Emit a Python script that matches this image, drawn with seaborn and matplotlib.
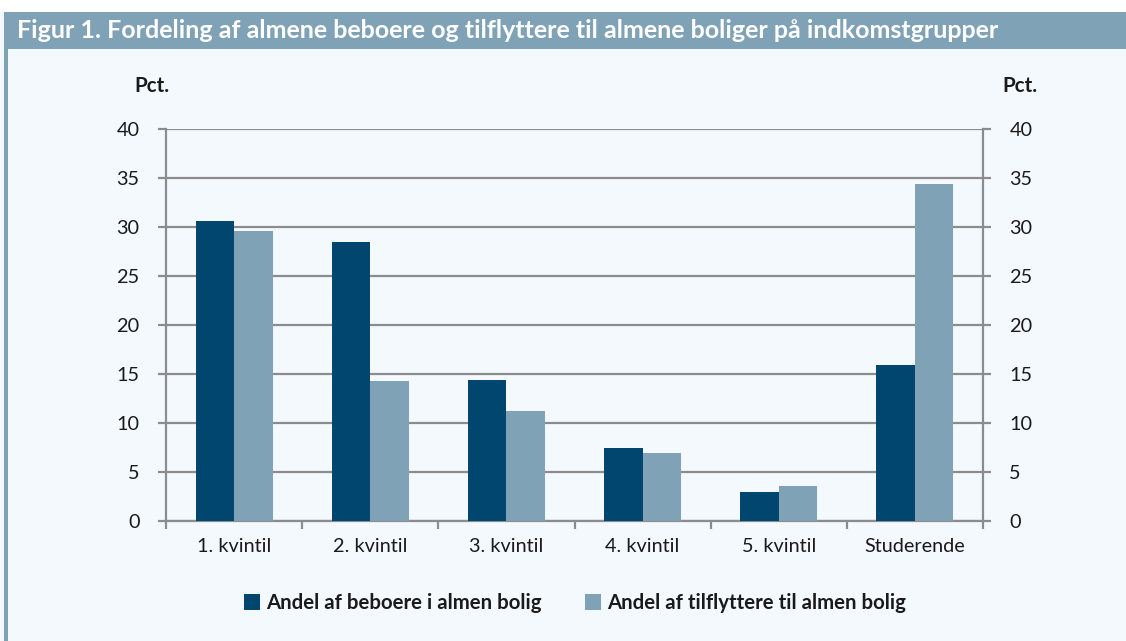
import matplotlib
matplotlib.use("Agg")
import matplotlib.pyplot as plt
import matplotlib.patches as mpatches
import pandas as pd
import seaborn as sns

categories = ["1. kvintil", "2. kvintil", "3. kvintil", "4. kvintil", "5. kvintil", "Studerende"]
beboere = [30.6, 28.5, 14.4, 7.5, 3.0, 15.9]
tilflyttere = [29.6, 14.3, 11.2, 6.9, 3.6, 34.4]
series_names = ["Andel af beboere i almen bolig", "Andel af tilflyttere til almen bolig"]
yticks = [0, 5, 10, 15, 20, 25, 30, 35, 40]

title = "Figur 1. Fordeling af almene beboere og tilflyttere til almene boliger på indkomstgrupper"

bg = "#F4F9FE"
dark = "#00466E"
light = "#7FA2B7"
grid_col = "#8C8C8C"
txt = "#1A1A1A"

df = pd.DataFrame({
    "kategori": categories * 2,
    "pct": beboere + tilflyttere,
    "serie": [series_names[0]] * len(categories) + [series_names[1]] * len(categories),
})

sns.set_theme(style="white")
plt.rcParams["font.family"] = ["Lato", "DejaVu Sans"]

fig = plt.figure(figsize=(11.26, 6.41), dpi=100)
fig.patch.set_facecolor(bg)

# white strip on top, title bar and left border
fig.patches.append(mpatches.Rectangle((0, 1 - 12 / 641), 1, 12 / 641, transform=fig.transFigure,
                                      facecolor="white", edgecolor="none", zorder=0))
fig.patches.append(mpatches.Rectangle((4 / 1126, 1 - 49 / 641), 1, 37 / 641, transform=fig.transFigure,
                                      facecolor=light, edgecolor="none", zorder=0))
fig.patches.append(mpatches.Rectangle((4 / 1126, 0), 4 / 1126, 1 - 12 / 641, transform=fig.transFigure,
                                      facecolor=light, edgecolor="none", zorder=0))
fig.text(17 / 1126, 1 - 31 / 641, title, color="white", fontsize=18, fontweight="bold",
         va="center", ha="left")

ax = fig.add_axes([166 / 1126, 1 - 521 / 641, (983 - 166) / 1126, (521 - 129) / 641])
ax.set_facecolor(bg)

sns.barplot(data=df, x="kategori", y="pct", hue="serie", palette=[dark, light],
            width=0.565, ax=ax, legend=False, zorder=3, edgecolor="none", saturation=1)

ax.set_xlim(-0.5, len(categories) - 0.5)
ax.set_ylim(0, 40)
ax.set_yticks(yticks)
ax.set_xlabel("")
ax.set_ylabel("")
ax.yaxis.grid(True, color=grid_col, linewidth=1.6, zorder=0)
ax.set_axisbelow(True)

for side in ["left", "right", "bottom"]:
    ax.spines[side].set_visible(True)
    ax.spines[side].set_color(grid_col)
    ax.spines[side].set_linewidth(1.6)
ax.spines["top"].set_visible(False)

ax.tick_params(axis="y", which="major", left=True, right=True, labelleft=True, labelright=True,
               length=6, width=1.6, color=grid_col, labelsize=14.3, labelcolor=txt, pad=13)
ax.set_xticks(range(len(categories)))
ax.set_xticklabels(categories)
ax.set_xticks([i - 0.5 for i in range(len(categories) + 1)], minor=True)
ax.tick_params(axis="x", which="major", length=0, labelsize=14.3, labelcolor=txt, pad=12)
ax.tick_params(axis="x", which="minor", bottom=True, length=6, width=1.6, color=grid_col)

fig.text(152 / 1126, 1 - 86 / 641, "Pct.", fontsize=14.8, fontweight="bold", color=txt,
         ha="center", va="center")
fig.text(1020 / 1126, 1 - 86 / 641, "Pct.", fontsize=14.8, fontweight="bold", color=txt,
         ha="center", va="center")

handles = [mpatches.Patch(facecolor=dark, edgecolor="none"),
           mpatches.Patch(facecolor=light, edgecolor="none")]
leg = fig.legend(handles, series_names, loc="center", bbox_to_anchor=(575 / 1126, 1 - 603 / 641),
                 ncol=2, frameon=False, handlelength=0.8, handleheight=0.8, handletextpad=0.3,
                 columnspacing=2.1, prop={"size": 14.7, "weight": "bold"})
for t in leg.get_texts():
    t.set_color(txt)

fig.savefig("out.png", dpi=100, facecolor=bg)
